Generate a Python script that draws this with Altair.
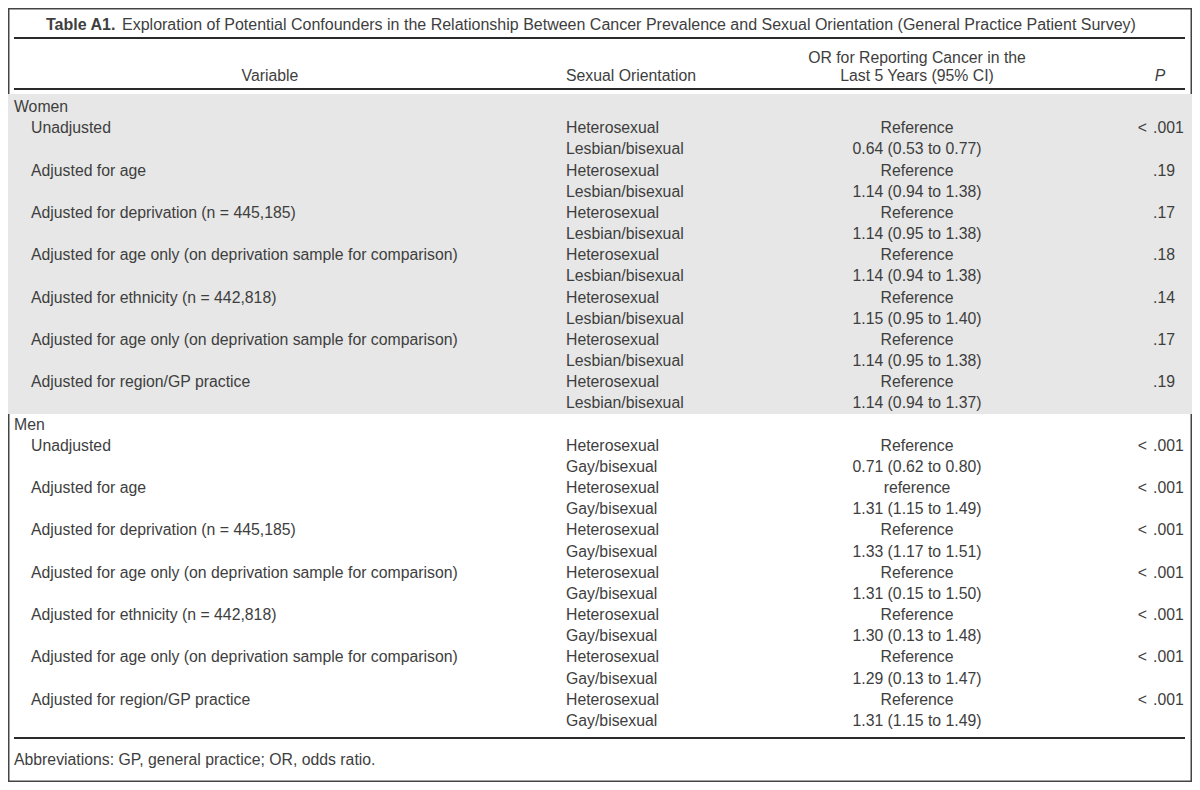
import altair as alt
import pandas as pd

# ---------------- table content ----------------
TITLE_BOLD = "Table A1."
TITLE_REST = ("Exploration of Potential Confounders in the Relationship Between Cancer "
              "Prevalence and Sexual Orientation (General Practice Patient Survey)")
HEAD_VAR = "Variable"
HEAD_ORIENT = "Sexual Orientation"
HEAD_OR = ["OR for Reporting Cancer in the", "Last 5 Years (95% CI)"]
HEAD_P = "P"
FOOTNOTE = "Abbreviations: GP, general practice; OR, odds ratio."

groups = ["Women", "Men"]
variables = [
    "Unadjusted",
    "Adjusted for age",
    "Adjusted for deprivation (n = 445,185)",
    "Adjusted for age only (on deprivation sample for comparison)",
    "Adjusted for ethnicity (n = 442,818)",
    "Adjusted for age only (on deprivation sample for comparison)",
    "Adjusted for region/GP practice",
]
orient_ref = "Heterosexual"
orient_cmp = ["Lesbian/bisexual", "Gay/bisexual"]
ref_women = ["Reference"] * 7
ref_men = ["Reference", "reference", "Reference", "Reference", "Reference", "Reference", "Reference"]
or_women = ["0.64 (0.53 to 0.77)", "1.14 (0.94 to 1.38)", "1.14 (0.95 to 1.38)",
            "1.14 (0.94 to 1.38)", "1.15 (0.95 to 1.40)", "1.14 (0.95 to 1.38)",
            "1.14 (0.94 to 1.37)"]
or_men = ["0.71 (0.62 to 0.80)", "1.31 (1.15 to 1.49)", "1.33 (1.17 to 1.51)",
          "1.31 (0.15 to 1.50)", "1.30 (0.13 to 1.48)", "1.29 (0.13 to 1.47)",
          "1.31 (1.15 to 1.49)"]
p_women = ["< .001", ".19", ".17", ".18", ".14", ".17", ".19"]
p_men = ["< .001"] * 7

# ---------------- layout (reference pixels) ----------------
W, H, M = 1184, 774, 8
ROW0_Y, ROW_STEP = 107, 21.17


def ru(py):
    return (py - ROW0_Y) / ROW_STEP


COL = {"group": 14, "item": 31, "orient": 566, "or": 917, "p_dec": 1153,
       "p_lt": 1147, "var_head": 270, "p_head": 1160, "title": 46, "foot": 14}
TITLE_GAP = 76

TXT = "#3e3e3e"
FONT = "Liberation Sans"
FS = 15.8
FS_TITLE = 16.0

# ---------------- build table cells ----------------
cells = []


def add(x, row, text, align="left", weight="normal", style="normal", size=FS):
    cells.append(dict(x=x, row=row, text=text, align=align, weight=weight,
                      style=style, size=size))


add(COL["title"], ru(25), TITLE_BOLD, "left", "bold", size=FS_TITLE)
add(COL["title"] + TITLE_GAP, ru(25), TITLE_REST, size=FS_TITLE)
add(COL["var_head"], ru(76), HEAD_VAR, "center")
add(COL["orient"], ru(76), HEAD_ORIENT)
add(COL["or"], ru(58), HEAD_OR[0], "center")
add(COL["or"], ru(76), HEAD_OR[1], "center")
add(COL["p_head"], ru(76), HEAD_P, "center", "normal", "italic")


def add_p(row, p):
    # decimal-aligned P values: optional "<" before, ".xxx" after the point
    if p.startswith("<"):
        add(COL["p_lt"], row, "<", "right")
        p = p[1:].strip()
    add(COL["p_dec"], row, p, "left")


blocks = [(groups[0], orient_cmp[0], ref_women, or_women, p_women),
          (groups[1], orient_cmp[1], ref_men, or_men, p_men)]
r = 0
for gname, cmp_label, refs, ors, ps in blocks:
    add(COL["group"], r, gname)
    r += 1
    for i, v in enumerate(variables):
        add(COL["item"], r, v)
        add(COL["orient"], r, orient_ref)
        add(COL["or"], r, refs[i], "center")
        add_p(r, ps[i])
        add(COL["orient"], r + 1, cmp_label)
        add(COL["or"], r + 1, ors[i], "center")
        r += 2

add(COL["foot"], ru(760), FOOTNOTE)

df = pd.DataFrame(cells)

xs = alt.Scale(domain=[M, M + W], range=[0, W])
ys = alt.Scale(domain=[ru(M), ru(M + H)], reverse=True)

# shading of the Women block
shade = pd.DataFrame([{"x0": M, "x1": M + W, "y0": ru(94), "y1": ru(414)}])
shade_layer = alt.Chart(shade).mark_rect(color="#e6e7e6").encode(
    x=alt.X("x0:Q", scale=xs, axis=None), x2="x1:Q",
    y=alt.Y("y0:Q", scale=ys, axis=None), y2="y1:Q")

rules = pd.DataFrame([
    {"x0": 14, "x1": 1185, "y": ru(38)},
    {"x0": 14, "x1": 1185, "y": ru(89)},
    {"x0": 14, "x1": 1185, "y": ru(738)},
])
rule_layer = alt.Chart(rules).mark_rule(color="#2a2a2a", strokeWidth=1.8).encode(
    x=alt.X("x0:Q", scale=xs, axis=None), x2="x1:Q",
    y=alt.Y("y:Q", scale=ys, axis=None))

layers = [shade_layer, rule_layer]
for (align, weight, style, size), sub in df.groupby(["align", "weight", "style", "size"]):
    layers.append(
        alt.Chart(sub).mark_text(align=align, baseline="middle", font=FONT, fontSize=size,
                                 fontWeight=weight, fontStyle=style, color=TXT).encode(
            x=alt.X("x:Q", scale=xs, axis=None),
            y=alt.Y("row:Q", scale=ys, axis=None),
            text="text:N"))

chart = alt.layer(*layers).properties(
    width=W, height=H, padding=0, autosize=alt.AutoSizeParams(type="none"),
    background="white"
).configure_view(stroke="#444444", strokeWidth=3)

chart.save("out.html", embed_options={"renderer": "svg", "actions": False})
